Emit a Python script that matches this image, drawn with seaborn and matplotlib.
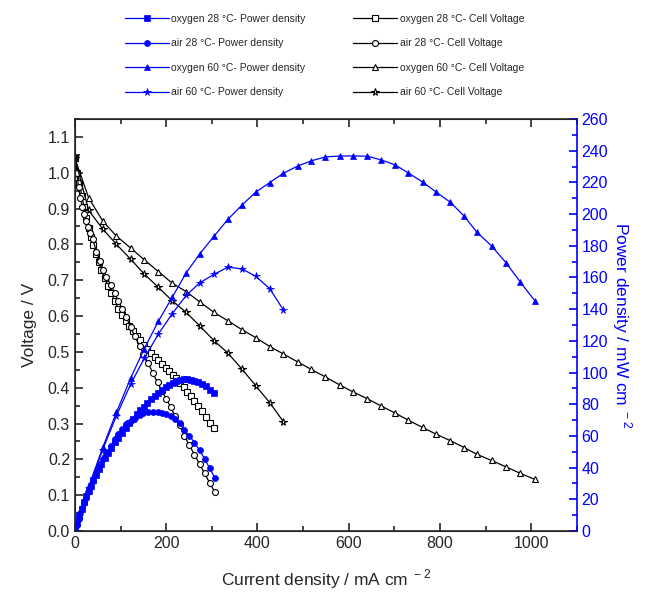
import seaborn as sns
import pandas as pd
from matplotlib import pyplot as plt
from matplotlib.ticker import MultipleLocator

# current density (mA cm-2), voltage (V), power density (mW cm-2)
I_o28 = [0, 5, 10, 15, 20, 25, 30, 35, 40, 46, 52, 58, 65, 72, 79, 87, 95, 103, 111, 119,
         127, 135, 143, 151, 159, 167, 175, 183, 191, 199, 207, 214, 222, 230, 238, 246,
         254, 262, 270, 278, 287, 295, 304]
V_o28 = [1.04, 1.0, 0.97, 0.935, 0.905, 0.875, 0.845, 0.82, 0.797, 0.772, 0.75, 0.728, 0.706,
         0.685, 0.665, 0.643, 0.62, 0.603, 0.587, 0.572, 0.558, 0.545, 0.532, 0.52, 0.508,
         0.497, 0.486, 0.476, 0.466, 0.456, 0.446, 0.436, 0.426, 0.414, 0.402, 0.389, 0.376,
         0.362, 0.348, 0.334, 0.318, 0.302, 0.287]
P_o28 = [0, 5.0, 9.7, 14.0, 18.1, 21.9, 25.4, 28.7, 31.9, 35.5, 39.0, 42.2, 45.9, 49.3, 52.5,
         55.9, 58.9, 62.1, 65.2, 68.1, 70.9, 73.6, 76.1, 78.5, 80.8, 83.0, 85.1, 87.1, 89.0,
         90.7, 92.3, 93.3, 94.6, 95.2, 95.7, 95.7, 95.5, 94.8, 94.0, 92.9, 91.3, 89.1, 87.2]

I_a28 = [0, 4, 8, 12, 16, 20, 24, 29, 33, 39, 47, 55, 62, 69, 78, 87, 95, 104, 113, 122,
         131, 142, 150, 160, 171, 181, 191, 200, 210, 220, 230, 240, 251, 262, 273, 284, 295, 306]
V_a28 = [1.04, 1.0, 0.96, 0.93, 0.905, 0.885, 0.865, 0.848, 0.832, 0.815, 0.78, 0.754, 0.729,
         0.71, 0.688, 0.665, 0.642, 0.619, 0.596, 0.569, 0.544, 0.516, 0.495, 0.47, 0.44,
         0.415, 0.39, 0.369, 0.345, 0.32, 0.295, 0.265, 0.239, 0.213, 0.187, 0.161, 0.135, 0.11]
P_a28 = [0, 4.0, 7.7, 11.2, 14.5, 17.7, 20.8, 24.6, 27.5, 31.8, 36.7, 41.5, 45.2, 49.0, 53.7,
         57.9, 61.0, 64.4, 67.3, 69.4, 71.3, 73.3, 74.3, 75.2, 75.2, 75.1, 74.5, 73.8, 72.5,
         70.4, 67.9, 63.6, 60.0, 55.8, 51.0, 45.7, 39.8, 33.7]

I_o60 = [0, 30, 61, 91, 122, 152, 183, 213, 244, 274, 305, 335, 366, 396, 427, 457, 488,
         518, 549, 580, 610, 641, 671, 702, 731, 762, 792, 823, 853, 881, 913, 945, 976, 1008]
V_o60 = [1.04, 0.93, 0.865, 0.823, 0.79, 0.757, 0.724, 0.692, 0.668, 0.639, 0.61, 0.587,
         0.562, 0.54, 0.515, 0.494, 0.472, 0.451, 0.43, 0.408, 0.388, 0.369, 0.349, 0.329,
         0.309, 0.289, 0.27, 0.252, 0.233, 0.214, 0.197, 0.179, 0.161, 0.144]
P_o60 = [0, 27.9, 52.8, 74.9, 96.4, 115.1, 132.5, 147.4, 163.0, 175.1, 186.1, 196.6, 205.7,
         213.8, 219.9, 225.8, 230.3, 233.6, 236.1, 236.6, 236.7, 236.5, 234.2, 231.0, 225.9,
         220.2, 213.8, 207.4, 198.7, 188.5, 179.9, 169.2, 157.1, 145.2]

I_a60 = [0, 30, 61, 91, 122, 152, 183, 213, 244, 274, 305, 335, 366, 396, 427, 457]
V_a60 = [1.04, 0.895, 0.843, 0.80, 0.759, 0.717, 0.68, 0.643, 0.61, 0.572, 0.531, 0.497,
         0.452, 0.406, 0.358, 0.305]
P_a60 = [0, 26.9, 51.4, 72.8, 92.6, 109.0, 124.4, 137.0, 148.8, 156.7, 162.0, 166.5,
         165.4, 160.8, 152.9, 139.4]

series = [
    ("oxygen 28", I_o28, V_o28, P_o28, "s"),
    ("air 28", I_a28, V_a28, P_a28, "o"),
    ("oxygen 60", I_o60, V_o60, P_o60, "^"),
    ("air 60", I_a60, V_a60, P_a60, "*"),
]

sns.set_style("ticks")
plt.rcParams['font.family'] = ['Liberation Sans', 'DejaVu Sans']
plt.rcParams['mathtext.fontset'] = 'custom'
plt.rcParams['mathtext.rm'] = 'Liberation Sans'

fig = plt.figure(figsize=(6.46, 5.92), dpi=100)
ax = fig.add_axes([0.116, 0.103, 0.777, 0.696])
ax2 = ax.twinx()
blue = "#0000ff"

p_handles, v_handles = [], []
for name, I, V, P, mk in series:
    df = pd.DataFrame({"I": I, "V": V, "P": P})
    ms = 5.5 if mk == "*" else 4.3
    sns.lineplot(data=df, x="I", y="V", ax=ax, sort=False, estimator=None, color="black",
                 lw=0.9, marker=mk, markersize=ms, markerfacecolor="white",
                 markeredgecolor="black", markeredgewidth=0.8)
    v_handles.append(ax.lines[-1])
    sns.lineplot(data=df, x="I", y="P", ax=ax2, sort=False, estimator=None, color=blue,
                 lw=0.9, marker=mk, markersize=ms, markerfacecolor=blue,
                 markeredgecolor=blue, markeredgewidth=0.5)
    p_handles.append(ax2.lines[-1])

ax.set_xlim(0, 1100)
ax.set_ylim(0, 1.15)
ax2.set_ylim(0, 260)

ax.xaxis.set_major_locator(MultipleLocator(200))
ax.xaxis.set_minor_locator(MultipleLocator(100))
ax.yaxis.set_major_locator(MultipleLocator(0.1))
ax.yaxis.set_minor_locator(MultipleLocator(0.05))
ax2.yaxis.set_major_locator(MultipleLocator(20))
ax2.yaxis.set_minor_locator(MultipleLocator(10))
ax.yaxis.set_major_formatter(plt.FormatStrFormatter('%.1f'))

ax.tick_params(which='both', direction='in', top=True, right=False, labelsize=11.5, width=1.2)
ax.tick_params(which='major', length=6)
ax.tick_params(which='minor', length=3.5)
ax2.tick_params(which='both', direction='in', colors=blue, labelsize=11.5, width=1.2)
ax2.tick_params(which='major', length=6)
ax2.tick_params(which='minor', length=3.5)
for s in ['left', 'bottom', 'top']:
    ax.spines[s].set_linewidth(1.2)
ax2.spines['right'].set_color(blue)
ax2.spines['right'].set_linewidth(1.2)
ax.spines['right'].set_visible(False)

ax.set_xlabel(r"Current density / mA cm$^{\ -2}$", fontsize=12.5, labelpad=12)
ax.set_ylabel("Voltage / V", fontsize=12.5, labelpad=8)
ax2.set_ylabel(r"Power density / mW cm$^{\ -2}$", fontsize=12.5, color=blue,
               rotation=270, labelpad=18)

labels = [f"{n} °C- Power density" for n, *_ in series] + \
         [f"{n} °C- Cell Voltage" for n, *_ in series]
fig.legend(p_handles + v_handles, labels, ncol=2, loc='upper center',
           bbox_to_anchor=(0.502, 0.992), frameon=False, fontsize=7.5,
           handlelength=4.3, handletextpad=0.2, columnspacing=4.5, labelspacing=1.38)

plt.savefig('out.png', dpi=100)
